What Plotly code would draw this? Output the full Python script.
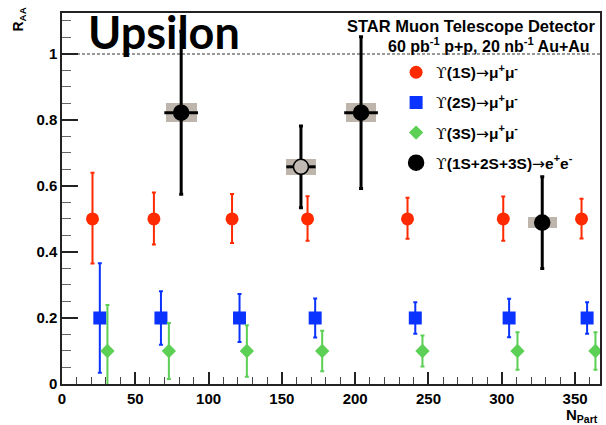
import plotly.graph_objects as go

# ---------------- data ----------------
npart_1s = [20.8, 62.7, 116.0, 167.5, 235.7, 301.0, 354.4]
raa_1s = [0.50, 0.50, 0.50, 0.50, 0.50, 0.50, 0.50]
err_1s_up = [0.140, 0.080, 0.076, 0.069, 0.064, 0.068, 0.061]
err_1s_dn = [0.135, 0.077, 0.073, 0.066, 0.060, 0.066, 0.059]

npart_2s = [25.8, 67.5, 121.1, 172.7, 241.0, 305.0, 358.2]
raa_2s = [0.20, 0.20, 0.20, 0.20, 0.20, 0.20, 0.20]
err_2s = [0.166, 0.081, 0.073, 0.059, 0.048, 0.058, 0.048]

npart_3s = [31.0, 72.9, 126.1, 177.5, 245.9, 310.7, 363.9]
raa_3s = [0.10, 0.10, 0.10, 0.10, 0.10, 0.10, 0.10]
err_3s = [0.139, 0.085, 0.078, 0.061, 0.047, 0.057, 0.057]

npart_ee = [81.3, 163.0, 204.0, 327.6]
raa_ee = [0.822, 0.658, 0.822, 0.489]
err_ee = [0.247, 0.124, 0.230, 0.139]
xerr_ee = [11.5, 10.0, 11.5, 0.0]
sys_ee = [0.029, 0.024, 0.029, 0.017]
sysw_ee = [10.5, 10.0, 10.5, 10.0]
fill_ee = ["black", "#c2bab2", "black", "black"]

UPS = '<span style="font-family:\'DejaVu Serif\', \'Liberation Serif\', serif;font-weight:normal">ϒ</span>'
ARR = '<span style="font-family:\'DejaVu Sans\', sans-serif;font-weight:normal">→</span>'
names = [UPS + "(1S)" + ARR + "μ<sup>+</sup>μ<sup>-</sup>",
         UPS + "(2S)" + ARR + "μ<sup>+</sup>μ<sup>-</sup>",
         UPS + "(3S)" + ARR + "μ<sup>+</sup>μ<sup>-</sup>",
         UPS + "(1S+2S+3S)" + ARR + "e<sup>+</sup>e<sup>-</sup>"]

y_tickvals = [0, 0.2, 0.4, 0.6, 0.8, 1.0]
y_ticktext = ["0", "0.2", "0.4", "0.6", "0.8", "1"]
x_tickvals = [0, 50, 100, 150, 200, 250, 300, 350]
unity = 1.0

RED = "#ff2a00"
BLUE = "#0a33ff"
GREEN = "#5ccf55"
BOX = "#beb6ad"

fig = go.Figure()

# systematic boxes
fig.add_trace(go.Bar(
    x=npart_ee, y=[2 * s for s in sys_ee], base=[r - s for r, s in zip(raa_ee, sys_ee)],
    width=[2 * w for w in sysw_ee], marker=dict(color=BOX, line=dict(width=0)),
    showlegend=False, hoverinfo="skip"))

fig.add_trace(go.Scatter(
    x=npart_1s, y=raa_1s, mode="markers", name=names[0], legendgroup="a",
    marker=dict(symbol="circle", size=13, color=RED, line=dict(width=0)),
    error_y=dict(type="data", array=err_1s_up, arrayminus=err_1s_dn, color=RED,
                 thickness=2, width=2)))

fig.add_trace(go.Scatter(
    x=npart_2s, y=raa_2s, mode="markers", name=names[1], legendgroup="b",
    marker=dict(symbol="square", size=13, color=BLUE, line=dict(width=0)),
    error_y=dict(type="data", array=err_2s, color=BLUE, thickness=2, width=2)))

fig.add_trace(go.Scatter(
    x=npart_3s, y=raa_3s, mode="markers", name=names[2], legendgroup="c",
    marker=dict(symbol="diamond", size=11, color=GREEN, line=dict(width=0)),
    error_y=dict(type="data", array=err_3s, color=GREEN, thickness=2, width=2)))

fig.add_trace(go.Scatter(
    x=npart_ee, y=raa_ee, mode="markers", name=names[3], legendgroup="d",
    marker=dict(symbol="circle", size=15, color=fill_ee, line=dict(width=1.5, color="black")),
    error_y=dict(type="data", array=err_ee, color="black", thickness=3, width=2),
    error_x=dict(type="data", array=xerr_ee, color="black", thickness=3, width=0)))

# unity line
fig.add_shape(type="line", xref="paper", x0=0, x1=1, yref="y", y0=unity, y1=unity,
              line=dict(color="#777777", width=1.5, dash="3px,2px"), layer="below")

tickfont = dict(family="Liberation Sans, Arial, sans-serif", size=15, color="black", weight="bold")

fig.update_layout(
    width=606, height=425,
    margin=dict(l=62, r=4, t=13, b=41),
    paper_bgcolor="white", plot_bgcolor="white",
    bargap=0,
    xaxis=dict(range=[0, 367], tickvals=x_tickvals, ticks="inside", ticklen=12, tickwidth=1.5,
               tickcolor="#222", showline=True, linecolor="#222", linewidth=1.5, mirror=True,
               showgrid=False, zeroline=False, tickfont=tickfont,
               minor=dict(ticks="inside", ticklen=7, dtick=10, tickwidth=1.2, tickcolor="#444")),
    yaxis=dict(range=[0, 1.124], tickvals=y_tickvals, ticktext=y_ticktext, ticks="inside",
               ticklen=16, tickwidth=1.5, tickcolor="#222", showline=True, linecolor="#222",
               linewidth=1.5, mirror=True, showgrid=False, zeroline=False, tickfont=tickfont,
               minor=dict(ticks="inside", ticklen=9, dtick=0.05, tickwidth=1.2, tickcolor="#666")),
    legend=dict(x=0.621, y=0.885, xanchor="left", yanchor="top", bgcolor="rgba(0,0,0,0)",
                font=dict(family="Liberation Sans, Arial, sans-serif", size=15.5, color="black",
                          weight="bold"),
                tracegroupgap=7, itemsizing="trace"),
    showlegend=True,
)

fig.add_annotation(text="Upsilon", xref="paper", yref="paper", x=(86 - 62) / 540, y=1.028,
                   xanchor="left", yanchor="top", showarrow=False,
                   font=dict(family="Lato, sans-serif", size=45, color="black", weight="bold"))
fig.add_annotation(text="STAR Muon Telescope Detector", xref="paper", yref="paper",
                   x=0.995, y=0.995, xanchor="right", yanchor="top", showarrow=False,
                   font=dict(family="Liberation Sans, Arial, sans-serif", size=16.5, color="black",
                             weight="bold"))
fig.add_annotation(text="60 pb<sup>-1</sup> p+p, 20 nb<sup>-1</sup> Au+Au", xref="paper",
                   yref="paper", x=0.986, y=0.947, xanchor="right", yanchor="top", showarrow=False,
                   font=dict(family="Liberation Sans, Arial, sans-serif", size=16, color="black",
                             weight="bold"))
fig.add_annotation(text="R<sub>AA</sub>", xref="paper", yref="paper", x=-0.08, y=1.02,
                   xanchor="center", yanchor="top", textangle=-90, showarrow=False,
                   font=dict(family="Liberation Sans, Arial, sans-serif", size=14, color="black",
                             weight="bold"))
fig.add_annotation(text="N<sub>Part</sub>", xref="paper", yref="paper", x=1.0, y=-0.055,
                   xanchor="right", yanchor="top", showarrow=False,
                   font=dict(family="Liberation Sans, Arial, sans-serif", size=15, color="black",
                             weight="bold"))

fig.write_html("out.html")
